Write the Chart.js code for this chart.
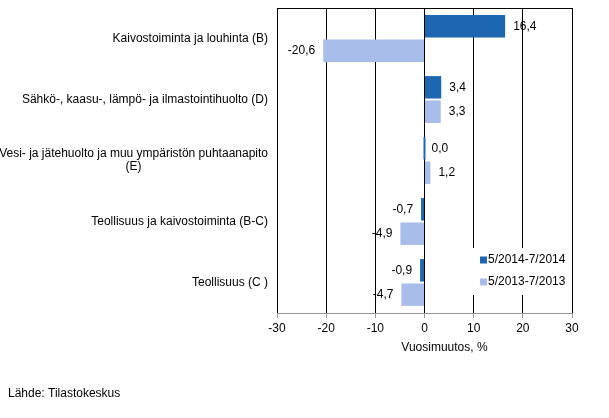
<!DOCTYPE html>
<html>
<head>
<meta charset="utf-8">
<script src="https://cdn.jsdelivr.net/npm/chart.js@4"></script>
<style>
  body { margin: 0; background: #fff; }
  canvas { display: block; }
</style>
</head>
<body>
<canvas id="chart" width="609" height="418"></canvas>
<script>
// Data
const categories = [
    "Kaivostoiminta ja louhinta (B)",
    "Sähkö-, kaasu-, lämpö- ja ilmastointihuolto (D)",
    ["Vesi- ja jätehuolto ja muu ympäristön puhtaanapito", "(E)"],
    "Teollisuus ja kaivostoiminta (B-C)",
    "Teollisuus (C )"
];
const seriesNames = ["5/2014-7/2014", "5/2013-7/2013"];
const values2014 = [16.4, 3.4, 0.0, -0.7, -0.9];
const values2013 = [-20.6, 3.3, 1.2, -4.9, -4.7];
const xTicks = [-30, -20, -10, 0, 10, 20, 30];
const seriesColors = ["#1F66B0", "#A8BDEA"];

const fontFamily = 'Arial, "Liberation Sans", sans-serif';
Chart.defaults.font.family = fontFamily;
Chart.defaults.font.size = 12;
Chart.defaults.color = "#000";

const fmt = (v) => v.toFixed(1).replace(".", ",");

// Labels, legend, borders
const extrasPlugin = {
    id: "extras",
    afterDatasetsDraw(chart) {
        const ctx = chart.ctx;
        const area = chart.chartArea;
        ctx.save();
        ctx.font = "12px " + fontFamily;
        ctx.fillStyle = "#000";
        ctx.textBaseline = "middle";

        // value labels
        chart.data.datasets.forEach((ds, di) => {
            chart.getDatasetMeta(di).data.forEach((bar, i) => {
                let v = ds.data[i];
                if (v >= 0) {
                    ctx.textAlign = "left";
                    ctx.fillText(fmt(v), bar.x + 8, bar.y);
                } else {
                    ctx.textAlign = "right";
                    ctx.fillText(fmt(v), bar.x - 8, bar.y);
                }
            });
        });

        // category labels
        let yScale = chart.scales.y;
        let rightEdge = area.left - 9;
        categories.forEach((cat, i) => {
            let y = yScale.getPixelForValue(i);
            if (Array.isArray(cat)) {
                let w = Math.max(...cat.map(t => ctx.measureText(t).width));
                ctx.textAlign = "center";
                let lh = 13;
                let y0 = y - (cat.length - 1) * lh / 2;
                cat.forEach((t, k) => ctx.fillText(t, rightEdge - w / 2, y0 + k * lh));
            } else {
                ctx.textAlign = "right";
                ctx.fillText(cat, rightEdge, y);
            }
        });

        // top border
        ctx.strokeStyle = "#000";
        ctx.lineWidth = 1;
        ctx.beginPath();
        ctx.moveTo(area.left, Math.round(area.top) + 0.5);
        ctx.lineTo(area.right, Math.round(area.top) + 0.5);
        ctx.stroke();

        // legend
        let lx = area.right - 102;
        let ly = area.bottom - 65;
        ctx.fillStyle = "#fff";
        ctx.fillRect(lx, ly, 95, 47);
        seriesNames.forEach((name, i) => {
            let cy = ly + 12 + i * 22;
            ctx.fillStyle = seriesColors[i];
            ctx.fillRect(lx + 10, cy - 3.5, 7, 7);
            ctx.fillStyle = "#000";
            ctx.textAlign = "left";
            ctx.fillText(name, lx + 18, cy);
        });

        // axis title
        ctx.textAlign = "center";
        ctx.fillText("Vuosimuutos, %", (area.left + area.right) / 2 + 20, area.bottom + 35);

        // source
        ctx.textAlign = "left";
        ctx.fillText("Lähde: Tilastokeskus", 8, chart.height - 24);
        ctx.restore();
    }
};

new Chart(document.getElementById("chart"), {
    type: "bar",
    data: {
        labels: categories,
        datasets: [
            {
                label: seriesNames[0],
                data: values2014,
                backgroundColor: seriesColors[0],
                barPercentage: 0.92,
                categoryPercentage: 0.8,
                minBarLength: 2,
            },
            {
                label: seriesNames[1],
                data: values2013,
                backgroundColor: seriesColors[1],
                barPercentage: 0.92,
                categoryPercentage: 0.8,
            }
        ]
    },
    options: {
        indexAxis: "y",
        responsive: false,
        animation: false,
        layout: {
            padding: { left: 277, right: 37, top: 8, bottom: 75 }
        },
        scales: {
            y: {
                display: false,
            },
            x: {
                min: xTicks[0],
                max: xTicks[xTicks.length - 1],
                afterBuildTicks: (scale) => {
                    scale.ticks = xTicks.map(v => ({ value: v }));
                },
                afterFit: (scale) => {
                    scale.height = 30;
                },
                border: { display: true, color: "#999" },
                grid: {
                    color: "#000",
                    tickColor: "#999",
                    tickLength: 5,
                },
                ticks: {
                    padding: 3,
                    font: { size: 12 },
                }
            }
        },
        plugins: {
            legend: { display: false },
            tooltip: { enabled: false }
        }
    },
    plugins: [extrasPlugin]
});
</script>
</body>
</html>
